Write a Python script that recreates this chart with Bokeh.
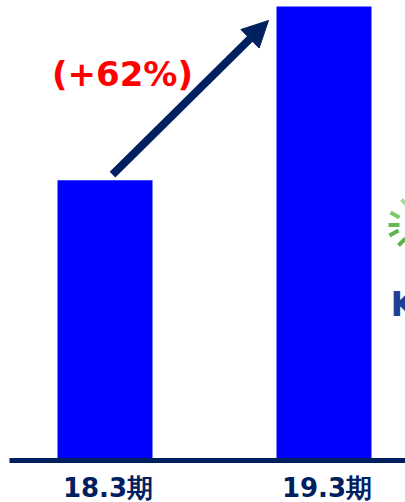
from bokeh.plotting import figure
from bokeh.models import Range1d, Arrow, NormalHead, Label, ColumnDataSource
from bokeh.core.properties import value
from bokeh.embed import file_html
from bokeh.resources import INLINE

# ---- data ----
categories = ["18.3期", "19.3期"]
values = [100, 162]
growth_label = "(+62%)"

NAVY = "#002060"
BLUE = "#0000FF"
RED = "#FF0000"

# ---- layout constants (pixels) ----
W, H = 405, 502
PX_PER_CAT = 219.0
X_START = -104.5 / PX_PER_CAT
PX_PER_VAL = 2.8025
BASE_FROM_BOTTOM = 42  # pixels from figure bottom to value 0
y_start = -BASE_FROM_BOTTOM / PX_PER_VAL
y_end = y_start + H / PX_PER_VAL
x_end = X_START + W / PX_PER_CAT

p = figure(width=W, height=H, output_backend="svg", toolbar_location=None,
           x_range=Range1d(X_START, x_end), y_range=Range1d(y_start, y_end),
           min_border=0, min_border_left=0, min_border_right=0,
           min_border_top=0, min_border_bottom=0)
p.axis.visible = False
p.grid.visible = False
p.outline_line_color = None
p.background_fill_color = "white"
p.border_fill_color = "white"

dxp = 1.0 / PX_PER_CAT
dyp = 1.0 / PX_PER_VAL


def px_x(page_x):
    return X_START + page_x * dxp


def px_y(page_y):
    return (460 - page_y) * dyp


xs = list(range(len(categories)))
bar_w = 95 / PX_PER_CAT
src = ColumnDataSource(dict(x=xs, top=values, cat=categories))
p.vbar(x="x", top="top", bottom=0, width=bar_w, source=src,
       fill_color=BLUE, line_color=None)

# baseline
p.add_layout(Arrow(x_start=px_x(9), y_start=0, x_end=x_end + 0.1, y_end=0,
                   line_color=NAVY, line_width=5, end=None))

# category labels
p.text(x="x", y=0, text="cat", source=src, x_offset=3, y_offset=27,
       text_align="center", text_baseline="middle",
       text_font=value("DejaVu Sans"), text_font_style="bold",
       text_font_size="26px", text_color=NAVY)

# growth arrow
x0 = xs[0] + 7.5 * dxp
y0 = values[0] + 2.0
x1 = xs[1] - bar_w / 2 - 8 * dxp
y1 = values[1] - 5.0
p.add_layout(Arrow(x_start=x0, y_start=y0, x_end=x1, y_end=y1,
                   line_color=NAVY, line_width=8,
                   end=NormalHead(size=26, fill_color=NAVY, line_color=NAVY, line_width=1)))

p.add_layout(Label(x=(x0 + x1) / 2, y=(y0 + y1) / 2, x_offset=-68, y_offset=24,
                   text=growth_label, text_align="center", text_baseline="middle",
                   text_font="DejaVu Sans", text_font_style="bold",
                   text_font_size="34px", text_color=RED))

# partial logo at the right edge (decoration)
dashes = [((401, 199), (407, 205), "#A8D898"),
          ((390, 212), (399, 217), "#7CC86A"),
          ((388, 224.5), (399, 224.5), "#66BB55"),
          ((389, 235), (398, 230), "#5DB44A"),
          ((398, 245), (405, 238), "#5DB44A")]
for (a, b, c) in dashes:
    p.add_layout(Arrow(x_start=px_x(a[0]), y_start=px_y(a[1]),
                       x_end=px_x(b[0]), y_end=px_y(b[1]),
                       line_color=c, line_width=4, end=None))
p.add_layout(Label(x=px_x(390), y=px_y(303), text="K", text_align="left",
                   text_baseline="middle", text_font="DejaVu Sans",
                   text_font_style="bold", text_font_size="34px",
                   text_color="#1F3F97"))

open("out.html", "w").write(file_html(p, INLINE))
